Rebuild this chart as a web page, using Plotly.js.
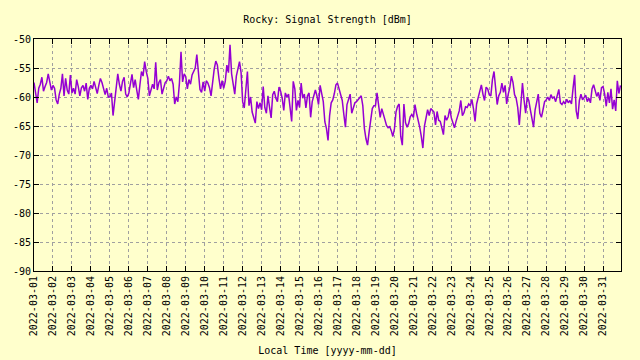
<!DOCTYPE html>
<html>
<head>
<meta charset="utf-8">
<script src="https://cdn.plot.ly/plotly-3.0.1.min.js"></script>
<style>
html,body{margin:0;padding:0;background:#ffffcc;}
#chart{width:640px;height:360px;}
</style>
</head>
<body>
<div id="chart"></div>
<script>
// Days of March 2022 shown on the x axis
const days = ["2022-03-01","2022-03-02","2022-03-03","2022-03-04","2022-03-05","2022-03-06","2022-03-07","2022-03-08","2022-03-09","2022-03-10","2022-03-11","2022-03-12","2022-03-13","2022-03-14","2022-03-15","2022-03-16","2022-03-17","2022-03-18","2022-03-19","2022-03-20","2022-03-21","2022-03-22","2022-03-23","2022-03-24","2022-03-25","2022-03-26","2022-03-27","2022-03-28","2022-03-29","2022-03-30","2022-03-31"];
// Samples every 2 hours (00:00 ... 22:00)
const sampleHours = ["00","02","04","06","08","10","12","14","16","18","20","22"];
// Signal strength readings [dBm], one row per day
const signalDbm = [
  [-57.5,-59.0,-61.0,-58.5,-57.8,-56.6,-59.0,-58.2,-57.5,-56.0,-57.6,-58.8],
  [-58.0,-58.5,-60.5,-61.2,-59.5,-58.5,-56.0,-59.8,-56.8,-58.8,-59.5,-56.2],
  [-59.3,-58.5,-59.5,-57.0,-58.2,-59.8,-58.4,-58.0,-59.0,-57.6,-60.4,-58.5],
  [-58.0,-58.6,-57.3,-58.2,-59.4,-58.0,-56.8,-57.5,-58.6,-59.6,-58.5,-60.0],
  [-60.0,-59.3,-63.2,-60.5,-58.5,-56.0,-57.8,-59.0,-57.3,-56.6,-59.5,-60.0],
  [-59.3,-57.4,-56.1,-58.4,-57.0,-58.8,-60.4,-57.9,-55.6,-56.4,-53.9,-55.6],
  [-56.8,-59.8,-58.5,-57.8,-58.6,-54.0,-58.8,-57.5,-57.0,-59.5,-58.5,-57.5],
  [-57.2,-56.4,-57.2,-56.8,-57.8,-61.2,-60.0,-60.8,-57.6,-52.2,-57.4,-56.0],
  [-56.5,-58.6,-57.0,-57.8,-56.2,-55.4,-55.0,-52.7,-56.2,-58.7,-59.2,-57.4],
  [-59.0,-57.2,-57.6,-58.4,-59.8,-57.3,-55.2,-53.8,-54.5,-56.8,-58.6,-57.2],
  [-58.5,-57.3,-54.5,-55.8,-51.0,-56.0,-58.2,-59.5,-56.4,-55.0,-53.9,-55.8],
  [-60.8,-61.9,-59.2,-55.6,-61.5,-60.0,-62.6,-63.8,-64.5,-60.8,-62.0,-61.0],
  [-62.2,-58.2,-61.8,-62.8,-59.8,-61.8,-63.6,-59.6,-59.0,-60.2,-60.8,-58.3],
  [-59.0,-60.2,-62.3,-59.3,-60.0,-59.5,-62.0,-64.2,-57.3,-58.6,-62.3,-60.6],
  [-61.8,-57.6,-60.2,-59.5,-61.9,-59.8,-59.3,-63.5,-60.8,-59.6,-58.8,-59.8],
  [-61.3,-58.0,-59.2,-60.8,-64.3,-65.4,-67.5,-63.2,-61.0,-60.5,-59.4,-57.9],
  [-57.6,-58.7,-59.5,-60.6,-63.0,-65.2,-61.3,-60.2,-59.5,-62.8,-61.8,-61.0],
  [-60.8,-60.4,-60.0,-59.8,-61.5,-65.4,-67.2,-68.3,-66.0,-64.0,-62.0,-61.5],
  [-61.5,-59.3,-61.6,-63.5,-62.0,-63.0,-64.2,-64.9,-65.3,-65.1,-65.8,-66.8],
  [-65.5,-62.6,-61.6,-61.2,-66.8,-68.3,-61.2,-64.4,-65.2,-64.6,-63.4,-63.0],
  [-63.5,-61.3,-62.8,-63.8,-65.2,-66.8,-68.8,-65.0,-63.6,-62.2,-63.2,-62.0],
  [-62.3,-62.6,-64.8,-62.5,-64.0,-64.2,-65.3,-66.5,-63.2,-64.0,-63.4,-62.0],
  [-63.6,-64.5,-65.3,-64.2,-63.4,-62.4,-60.6,-63.2,-62.7,-61.7,-61.8,-61.2],
  [-61.5,-60.4,-62.0,-64.2,-61.2,-60.2,-59.0,-57.9,-59.5,-60.6,-58.3,-58.6],
  [-59.6,-59.8,-57.0,-55.6,-58.4,-61.3,-59.8,-59.2,-57.6,-59.2,-58.0,-61.2],
  [-59.5,-58.4,-56.4,-57.5,-59.6,-60.2,-61.8,-64.8,-61.3,-57.6,-60.5,-62.8],
  [-60.0,-60.6,-62.2,-63.6,-65.2,-62.2,-60.8,-59.5,-62.8,-63.5,-62.2,-60.8],
  [-60.5,-60.0,-60.6,-59.6,-60.2,-60.0,-60.8,-59.5,-58.7,-61.0,-61.3,-60.8],
  [-61.2,-60.4,-61.0,-60.6,-61.2,-58.5,-56.2,-62.4,-63.8,-60.6,-59.5,-60.5],
  [-60.0,-59.7,-60.8,-60.2,-61.0,-58.6,-57.9,-58.8,-59.9,-59.2,-60.6,-58.4],
  [-58.2,-59.5,-61.6,-59.2,-61.0,-58.6,-62.1,-60.5,-62.4,-57.2,-59.4,-58.0]
];
const yTicks = [-90,-85,-80,-75,-70,-65,-60,-55,-50];
const yTickText = ["-90","-85","-80","-75","-70","-65","-60","-55","-50"];

const xs = [], ys = [];
days.forEach((d, di) => {
  signalDbm[di].forEach((v, hi) => {
    xs.push(d + " " + sampleHours[hi] + ":00");
    ys.push(v);
  });
});

const font = {family: "DejaVu Sans Mono, monospace", size: 10, color: "#000"};

const trace = {
  x: xs, y: ys, type: "scatter", mode: "lines",
  line: {color: "#9400d3", width: 1.5},
  hoverinfo: "skip"
};

const axisCommon = {
  showline: true, linecolor: "#000", linewidth: 1,
  mirror: "ticks", ticks: "inside", ticklen: 5, tickcolor: "#000", tickwidth: 1,
  showgrid: true, gridcolor: "#a0a0a0", gridwidth: 1, griddash: "3px,3px",
  zeroline: false, tickfont: font
};

const layout = {
  width: 640, height: 360,
  paper_bgcolor: "#ffffcc", plot_bgcolor: "#ffffcc",
  margin: {l: 33.5, r: 18.5, t: 39, b: 89, pad: 0},
  showlegend: false,
  font: font,
  title: {text: "Rocky: Signal Strength [dBm]", font: font, xref: "paper", x: 0.5, xanchor: "center", y: 0.947, yanchor: "middle"},
  xaxis: Object.assign({}, axisCommon, {
    type: "date",
    range: ["2022-03-01 00:00", "2022-03-31 22:40"],
    tickmode: "array", tickvals: days, ticktext: days,
    tickangle: -90,
    title: {text: "Local Time [yyyy-mm-dd]", font: font, standoff: 11}
  }),
  yaxis: Object.assign({}, axisCommon, {
    range: [-90, -50],
    tickmode: "array", tickvals: yTicks, ticktext: yTickText
  })
};

Plotly.newPlot("chart", [trace], layout, {staticPlot: true, displayModeBar: false});
</script>
</body>
</html>
